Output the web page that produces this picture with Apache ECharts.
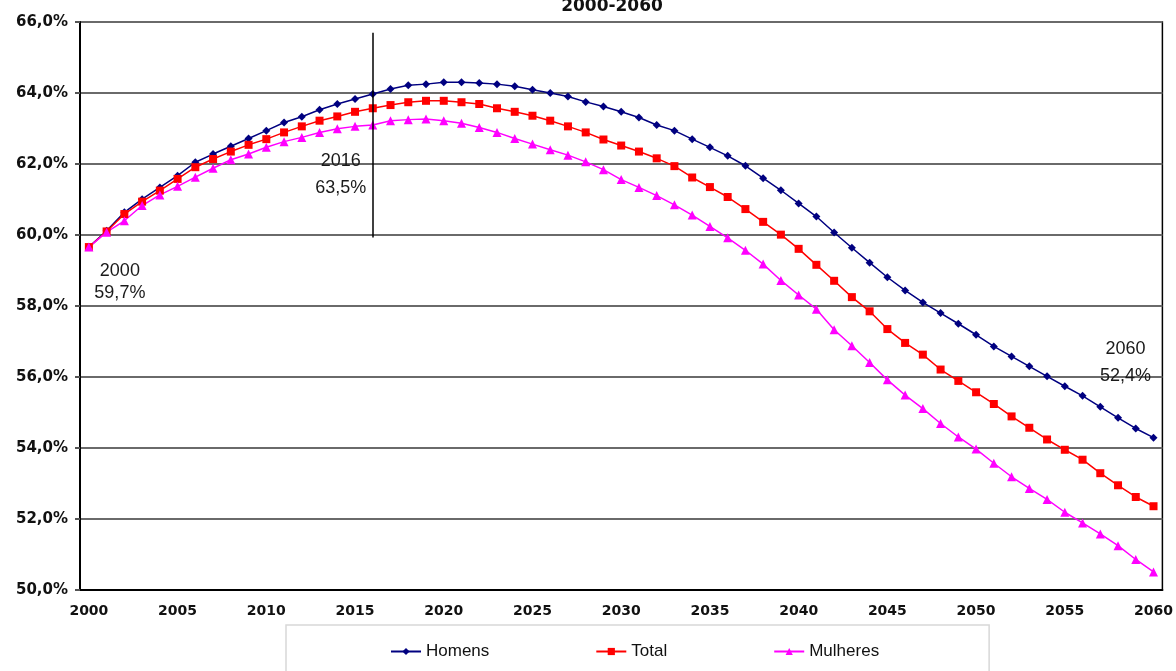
<!DOCTYPE html>
<html>
<head>
<meta charset="utf-8">
<script src="https://cdn.jsdelivr.net/npm/echarts@6/dist/echarts.min.js"></script>
<style>html,body{margin:0;padding:0;background:#fff;}#c{width:1176px;height:671px;}</style>
</head>
<body>
<div id="c"></div>
<script>
var years = [];
for (var y = 2000; y <= 2060; y++) years.push(String(y));

var homens = [59.66,60.12,60.64,61.01,61.34,61.67,62.05,62.28,62.50,62.72,
  62.94,63.17,63.33,63.53,63.69,63.83,63.97,64.11,64.22,64.25,
  64.30,64.30,64.28,64.25,64.19,64.09,64.00,63.90,63.75,63.62,
  63.47,63.31,63.10,62.94,62.70,62.47,62.23,61.95,61.60,61.26,
  60.89,60.52,60.07,59.64,59.22,58.81,58.44,58.10,57.80,57.50,
  57.19,56.86,56.58,56.30,56.02,55.74,55.47,55.16,54.85,54.55,54.29];
var total = [59.66,60.10,60.59,60.94,61.25,61.58,61.91,62.14,62.35,62.54,
  62.70,62.89,63.06,63.22,63.34,63.47,63.57,63.66,63.74,63.78,
  63.78,63.74,63.69,63.57,63.47,63.36,63.22,63.06,62.89,62.69,
  62.52,62.35,62.16,61.94,61.62,61.35,61.07,60.73,60.37,60.01,
  59.61,59.16,58.71,58.25,57.85,57.35,56.96,56.63,56.21,55.89,
  55.57,55.24,54.89,54.57,54.24,53.95,53.67,53.29,52.95,52.62,52.36];
var mulheres = [59.66,60.08,60.40,60.83,61.13,61.37,61.63,61.88,62.12,62.28,
  62.47,62.63,62.75,62.89,62.99,63.06,63.10,63.22,63.25,63.27,
  63.22,63.15,63.03,62.89,62.72,62.56,62.40,62.25,62.06,61.84,
  61.56,61.34,61.11,60.85,60.56,60.24,59.92,59.57,59.18,58.72,
  58.31,57.91,57.33,56.88,56.41,55.92,55.49,55.11,54.69,54.31,
  53.97,53.57,53.19,52.86,52.55,52.19,51.89,51.58,51.25,50.86,50.51];

var seriesNames = ['Homens', 'Total', 'Mulheres'];
var titleText = '2000-2060';
var annotations = [
  {year: '2000', value: 59.7, text: '2000\n59,7%'},
  {year: '2016', value: 63.57, text: '2016\n63,5%'},
  {year: '2060', value: 52.36, text: '2060\n52,4%'}
];
var refLine = {year: '2016', from: 65.7, to: 59.93};

var annoStyle = [
  {offset: [31, 36], lineHeight: 22},
  {offset: [-32, 66], lineHeight: 27},
  {offset: [-28, -144], lineHeight: 27}
];

var chart = echarts.init(document.getElementById('c'), null, {renderer: 'canvas'});
var axisFont = 'DejaVu Sans';
var option = {
  backgroundColor: '#fff',
  animation: false,
  title: {
    text: titleText,
    left: 612, textAlign: 'center', top: -2, padding: 0,
    textStyle: {fontFamily: axisFont, fontWeight: 'bold', fontSize: 17, color: '#111'}
  },
  grid: {left: 80, right: 13, top: 22, bottom: 81, show: true, borderColor: '#000', borderWidth: 1.5, containLabel: false},
  legend: {
    data: seriesNames,
    left: 286, top: 625,
    padding: [18, 110, 40, 104],
    itemGap: 106,
    itemWidth: 30, itemHeight: 9,
    borderColor: '#d8d8d8', borderWidth: 1.5,
    textStyle: {fontFamily: 'Liberation Sans', fontSize: 17, color: '#111'}
  },
  xAxis: {
    type: 'category',
    data: years,
    boundaryGap: true,
    axisLine: {lineStyle: {color: '#000', width: 2}},
    axisTick: {interval: 4, length: 6, lineStyle: {color: '#333', width: 2}},
    axisLabel: {interval: 4, margin: 14, fontFamily: axisFont, fontWeight: 'bold', fontSize: 14, color: '#111'},
    splitLine: {show: false}
  },
  yAxis: {
    type: 'value', min: 50, max: 66, interval: 2,
    axisLine: {show: true, lineStyle: {color: '#000', width: 2}},
    axisTick: {show: true, length: 5, lineStyle: {color: '#555', width: 2}},
    axisLabel: {margin: 12, fontFamily: axisFont, fontWeight: 'bold', fontSize: 15, color: '#111',
      formatter: function (v) { return v.toFixed(1).replace('.', ',') + '%'; }},
    splitLine: {lineStyle: {color: '#6a6a6a', width: 2}}
  },
  series: [
    {
      name: seriesNames[0], type: 'line', data: homens,
      symbol: 'diamond', symbolSize: 8,
      lineStyle: {color: '#000080', width: 1.5},
      itemStyle: {color: '#000080'}
    },
    {
      name: seriesNames[1], type: 'line', data: total,
      symbol: 'rect', symbolSize: 8,
      lineStyle: {color: '#ff0000', width: 1.5},
      itemStyle: {color: '#ff0000'},
      z: 3,
      markLine: {
        silent: true, symbol: 'none', animation: false,
        lineStyle: {color: '#000', width: 1.5, type: 'solid'},
        label: {show: false},
        data: [[{coord: [refLine.year, refLine.from]}, {coord: [refLine.year, refLine.to]}]]
      },
      markPoint: {
        silent: true, symbol: 'circle', symbolSize: 0, animation: false,
        data: annotations.map(function (a, i) {
          return {
            coord: [a.year, a.value],
            label: {
              show: true, position: 'inside', offset: annoStyle[i].offset,
              formatter: a.text, align: 'center', verticalAlign: 'middle',
              lineHeight: annoStyle[i].lineHeight,
              fontFamily: 'Liberation Sans', fontSize: 18, color: '#1a1a1a'
            }
          };
        })
      }
    },
    {
      name: seriesNames[2], type: 'line', data: mulheres,
      symbol: 'triangle', symbolSize: 9,
      lineStyle: {color: '#ff00ff', width: 1.5},
      itemStyle: {color: '#ff00ff'}
    }
  ]
};
chart.setOption(option);
</script>
</body>
</html>
